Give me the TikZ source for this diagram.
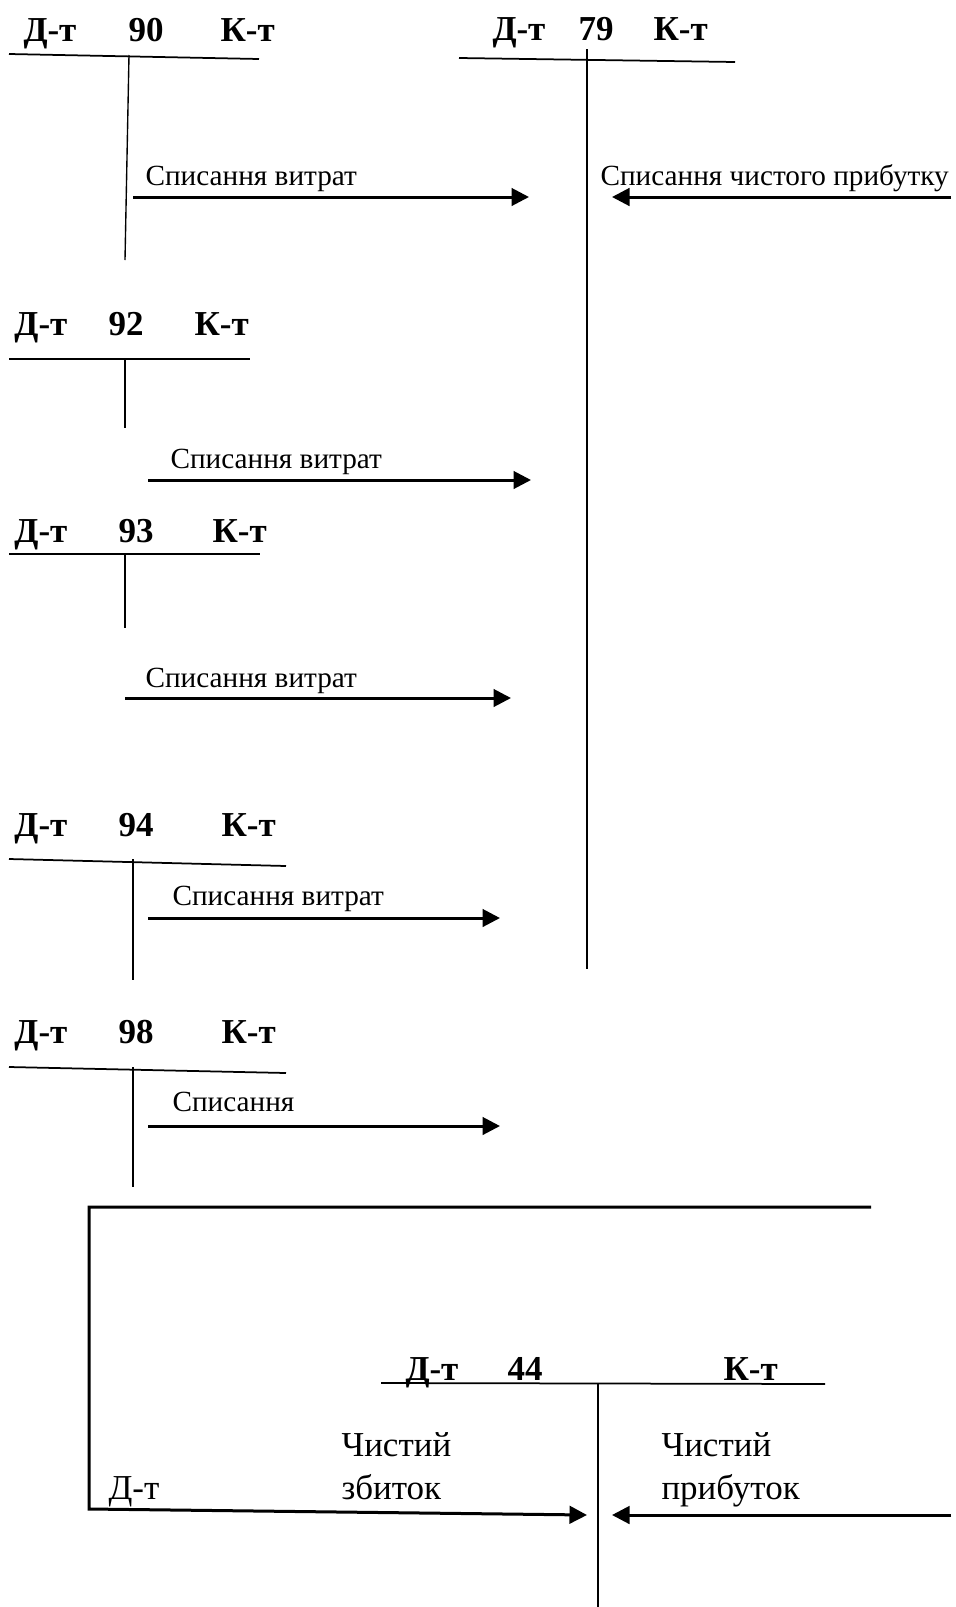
\documentclass[tikz,border=0pt]{standalone}
\usepackage{fontspec}
\setmainfont{Liberation Serif}
\usepackage{tikz}
\usetikzlibrary{arrows.meta}

\begin{document}
\begin{tikzpicture}
[x=0.4pt,y=-0.4pt,
  titleDecorate/.style={font=\fontsize{14}{16}\selectfont\bfseries,anchor=base west,inner sep=0pt},
  textDecorate/.style={font=\fontsize{14}{16}\selectfont,anchor=base west,inner sep=0pt},
  labelDecorate/.style={font=\fontsize{11.7}{14}\selectfont,anchor=base west,inner sep=0pt},
  lineDecorate/.style={-,line width=0.7pt},
  stemDecorate/.style={-,line width=0.55pt},
  arrowDecorate/.style={-{Triangle[length=7pt,width=7pt]},line width=1.2pt}]
\useasboundingbox (0,0) rectangle (955,1607);
%% account titles
\foreach \acc/\dx/\nx/\kx/\y in {
  90/23/128/220/41,
  79/492/578/653/40,
  92/14/108/194/335,
  93/14/118/212/542,
  94/14/118/221/836,
  98/14/118/221/1043,
  44/405/507/723/1380}
{
  \node (d\acc) at (\dx,\y) [titleDecorate] {Д-т};
  \node (n\acc) at (\nx,\y) [titleDecorate] {\acc};
  \node (k\acc) at (\kx,\y) [titleDecorate] {К-т};
}
%% T lines of the accounts
\foreach \acc/\xa/\ya/\xb/\yb/\vx/\vy/\wx/\wy in {
  90/9/54/259/59/129/55/125/260,
  79/459/58/735/62/587/49/587/969,
  92/9/359/250/359/125/359/125/428,
  93/9/554/260/554/125/554/125/628,
  94/9/859/286/866/133/859/133/980,
  98/9/1067/286/1073/133/1067/133/1187,
  44/381/1383/825/1384/598/1384/598/1607}
{
  \coordinate (l\acc) at (\xa,\ya);
  \coordinate (r\acc) at (\xb,\yb);
  \coordinate (t\acc) at (\vx,\vy);
  \coordinate (b\acc) at (\wx,\wy);
  \draw[lineDecorate] (l\acc) -- (r\acc);
  \draw[stemDecorate] (t\acc) -- (b\acc);
}
%% postings to 79
\foreach \name/\xa/\xb/\y/\lx/\ly/\txt in {
  a90/133/529/197/145/185/Списання витрат,
  a79/951/612/197/600/185/Списання чистого прибутку,
  a92/148/531/480/170/468/Списання витрат,
  a93/125/511/698/145/687/Списання витрат,
  a94/148/500/918/172/905/Списання витрат,
  a98/148/500/1126/172/1111/Списання}
{
  \coordinate (\name s) at (\xa,\y);
  \coordinate (\name e) at (\xb,\y);
  \node (\name l) at (\lx,\ly) [labelDecorate] {\txt};
  \draw[arrowDecorate] (\name s) -- (\name e);
}
%% postings to 44
\coordinate (fr) at (871,1207);
\coordinate (ftl) at (89,1207);
\coordinate (fbl) at (89,1509);
\coordinate (floss) at (587,1515);
\coordinate (fin) at (951,1515);
\coordinate (fprofit) at (612,1515);
\draw[arrowDecorate] (fr) -- (ftl) -- (fbl) -- (floss);
\draw[arrowDecorate] (fin) -- (fprofit);
\node (dloss) at (108,1499) [textDecorate] {Д-т};
\node (loss1) at (341,1456) [textDecorate] {Чистий};
\node (loss2) at (341,1499) [textDecorate] {збиток};
\node (profit1) at (661,1456) [textDecorate] {Чистий};
\node (profit2) at (661,1499) [textDecorate] {прибуток};
\end{tikzpicture}
\end{document}
